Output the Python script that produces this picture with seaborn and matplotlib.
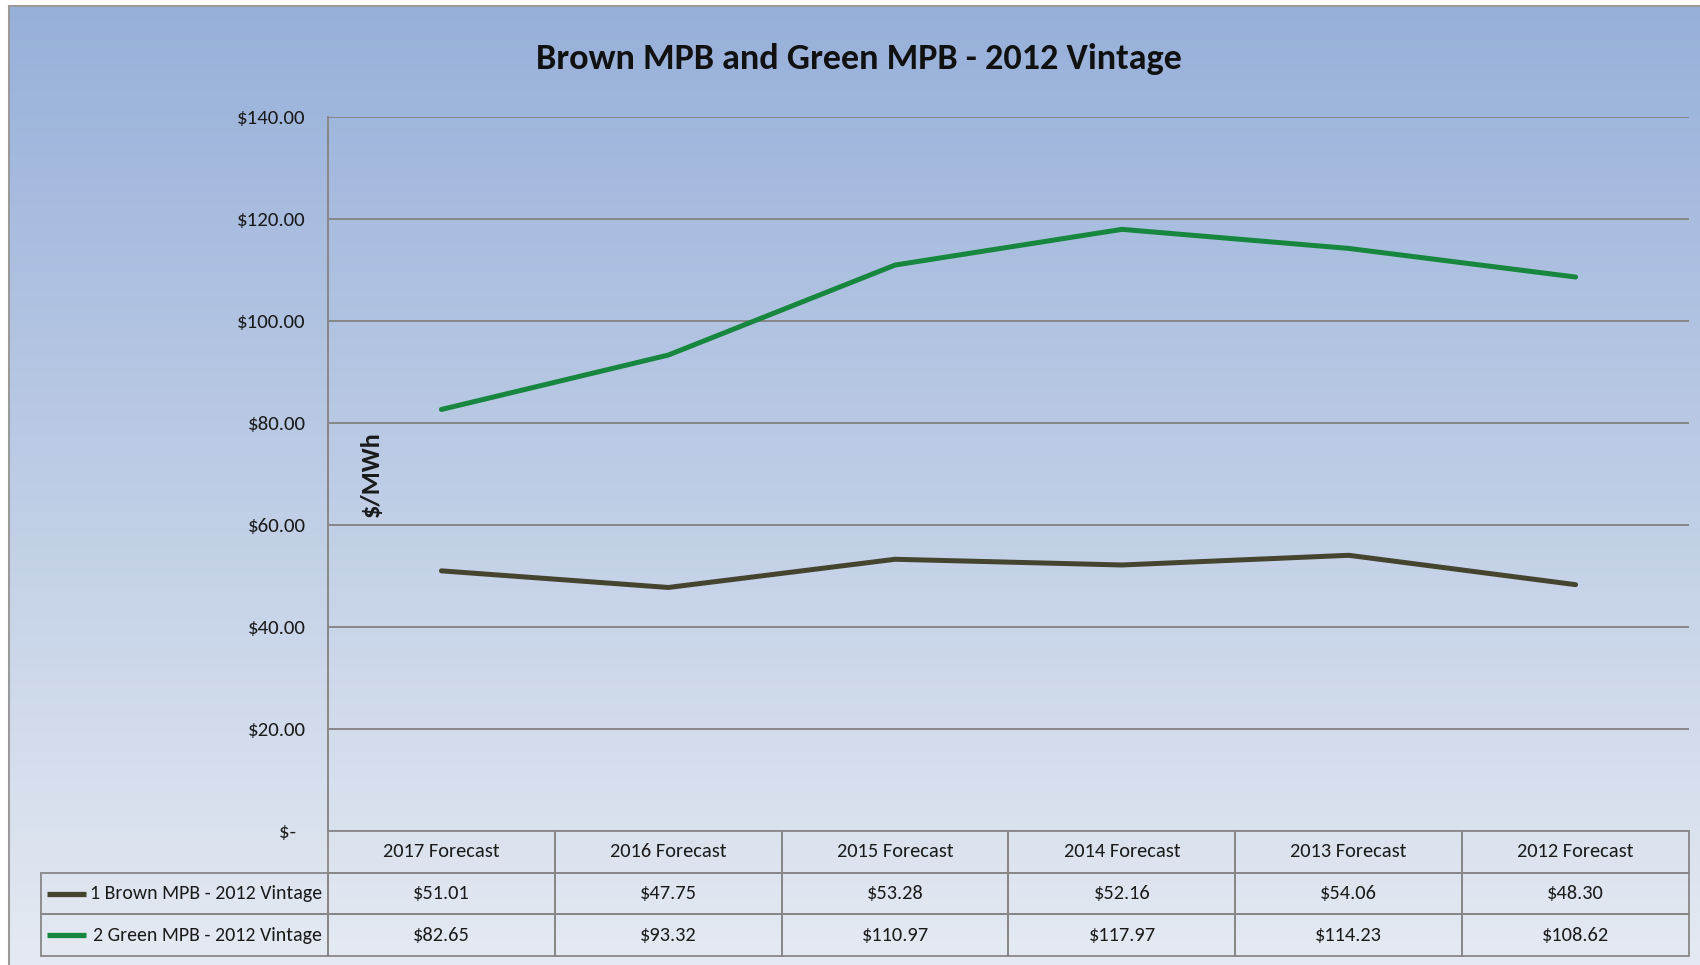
import numpy as np
import pandas as pd
import seaborn as sns
import matplotlib.pyplot as plt
from matplotlib.colors import LinearSegmentedColormap

# data
forecasts = ['2017 Forecast', '2016 Forecast', '2015 Forecast',
             '2014 Forecast', '2013 Forecast', '2012 Forecast']
series_names = ['1 Brown MPB - 2012 Vintage', '2 Green MPB - 2012 Vintage']
brown_vals = [51.01, 47.75, 53.28, 52.16, 54.06, 48.30]
green_vals = [82.65, 93.32, 110.97, 117.97, 114.23, 108.62]
y_ticks = [0, 20, 40, 60, 80, 100, 120, 140]

line_colors = ['#45452f', '#17873f']

df = pd.DataFrame({
    'forecast': forecasts * 2,
    'price': brown_vals + green_vals,
    'series': [series_names[0]] * 6 + [series_names[1]] * 6,
})

sns.set_theme(style='white')
# Calibri look-alike first, plain sans as fallback
plt.rcParams['font.family'] = ['Carlito', 'Liberation Sans Narrow', 'Liberation Sans', 'DejaVu Sans']
plt.rcParams['text.color'] = '#1a1a1a'

W, H = 1700, 965
fig = plt.figure(figsize=(W / 100, H / 100), dpi=100)
fig.patch.set_facecolor('white')

# gradient background of the chart frame
ax_bg = fig.add_axes([9 / W, 0, 1 - 9 / W, 1 - 6 / H], zorder=0)
grad = LinearSegmentedColormap.from_list('bg', [(0, '#97b0da'), (0.45, '#bacae4'), (1, '#e5eaf2')])
ax_bg.imshow(np.linspace(0, 1, 256).reshape(-1, 1), aspect='auto', cmap=grad,
             extent=[0, 1, 0, 1], origin='upper')
ax_bg.set_xticks([])
ax_bg.set_yticks([])
for s in ['right', 'bottom']:
    ax_bg.spines[s].set_visible(False)
for s in ['top', 'left']:
    ax_bg.spines[s].set_color('#9a9a9a')
    ax_bg.spines[s].set_linewidth(1.5)

# plot area
left, right, top, bottom = 328, 1689, 117, 831
ax = fig.add_axes([left / W, 1 - bottom / H, (right - left) / W, (bottom - top) / H], zorder=2)
ax.set_facecolor('none')

sns.lineplot(data=df, x='forecast', y='price', hue='series', palette=line_colors,
             sort=False, linewidth=3.6, legend=False, ax=ax)

ax.set_xlim(-0.5, len(forecasts) - 0.5)
ax.set_ylim(0, 140)
ax.set_yticks(y_ticks)
ax.set_yticklabels(['$-  ' if v == 0 else f'${v:.2f}' for v in y_ticks], fontsize=15)
ax.tick_params(axis='y', length=0, pad=16, labelcolor='#1a1a1a')
ax.tick_params(axis='x', length=0, labelbottom=False)
ax.set_xlabel('')
ax.yaxis.grid(True, color='#878787', linewidth=1.4)
ax.set_axisbelow(True)
for s in ['top', 'right', 'bottom']:
    ax.spines[s].set_visible(False)
ax.spines['left'].set_color('#878787')
ax.spines['left'].set_linewidth(1.4)

ax.set_ylabel('$/MWh', fontsize=19, fontweight='bold', color='#1a1a1a')
ax.yaxis.set_label_coords(0.0404, 0.5)

# data table under the plot; first column holds the series names
tab_left = 41
tab_bottom = 956
cell_text = [[series_names[0]] + [f'${v:.2f}' for v in brown_vals],
             [series_names[1]] + [f'${v:.2f}' for v in green_vals]]
x0 = (tab_left - left) / (right - left)
h = (tab_bottom - bottom) / (bottom - top)
tbl = ax.table(cellText=cell_text, colLabels=[''] + forecasts,
               cellLoc='center', colLoc='center', bbox=[x0, -h, 1 - x0, h])
tbl.auto_set_font_size(False)
tbl.set_fontsize(14.7)
for (r, c), cell in tbl.get_celld().items():
    cell.set_facecolor('none')
    cell.set_edgecolor('#878787')
    cell.set_linewidth(1.3)
    cell.get_text().set_color('#1a1a1a')
    cell.set_width(left - tab_left if c == 0 else (right - left) / len(forecasts))
    if c == 0:
        cell._loc = 'right'
        cell.get_text().set_horizontalalignment('right')
        cell.get_text().set_fontsize(14.3)
        cell.PAD = 0.02
        if r == 0:
            cell.visible_edges = 'open'

# legend keys in the name cells
row_h = h / 3
for i, col in enumerate(line_colors):
    yk = -row_h * (1.5 + i)
    ax.plot([(47 - left) / (right - left), (86 - left) / (right - left)], [yk, yk],
            transform=ax.transAxes, color=col, linewidth=3.8, clip_on=False,
            solid_capstyle='butt')

fig.suptitle('Brown MPB and Green MPB - 2012 Vintage', x=0.505, y=1 - 59 / H,
             va='center', fontsize=26, fontweight='bold', color='#111111')

fig.savefig('out.png', dpi=100)
